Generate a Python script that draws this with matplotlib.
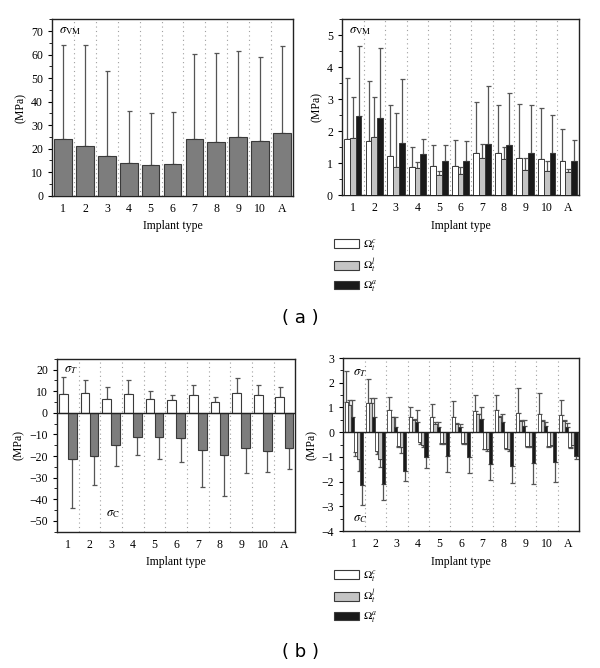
import numpy as np
import matplotlib
matplotlib.use("Agg")
import matplotlib.pyplot as plt
from matplotlib.patches import Patch
from matplotlib.ticker import MultipleLocator

plt.rcParams["font.family"] = "Liberation Serif"
plt.rcParams["font.size"] = 8.5
plt.rcParams["mathtext.fontset"] = "stix"

types = ["1", "2", "3", "4", "5", "6", "7", "8", "9", "10", "A"]

# (a) left: von Mises, mean and upper whisker
vm_mean = [24.2, 21.0, 17.0, 14.0, 13.0, 13.5, 24.2, 23.0, 25.0, 23.3, 26.5]
vm_top = [64.3, 64.0, 53.0, 36.0, 35.0, 35.5, 60.2, 60.6, 61.5, 59.0, 63.5]

# (a) right: von Mises per region (c, l, a)
vmr_c = [1.75, 1.68, 1.22, 0.87, 0.91, 0.92, 1.32, 1.33, 1.17, 1.13, 1.08]
vmr_c_top = [3.65, 3.58, 2.83, 1.52, 1.56, 1.73, 2.92, 2.83, 2.86, 2.73, 2.08]
vmr_l = [1.78, 1.82, 0.88, 0.85, 0.62, 0.67, 1.16, 1.12, 0.80, 0.76, 0.72]
vmr_l_top = [3.08, 3.07, 2.58, 1.05, 0.74, 0.87, 1.60, 1.52, 1.15, 1.06, 0.83]
vmr_a = [2.48, 2.42, 1.63, 1.29, 1.06, 1.08, 1.60, 1.58, 1.33, 1.31, 1.08]
vmr_a_top = [4.68, 4.60, 3.63, 1.74, 1.56, 1.69, 3.40, 3.18, 2.83, 2.52, 1.71]

# (b) left: tension / compression
st_mean = [8.5, 9.3, 6.3, 8.5, 6.5, 5.8, 8.0, 4.8, 9.2, 8.0, 7.2]
st_top = [16.5, 15.0, 12.0, 15.2, 10.3, 8.0, 12.7, 7.5, 16.3, 12.7, 12.0]
sc_mean = [-21.5, -20.0, -14.7, -11.2, -11.3, -11.7, -17.3, -19.5, -16.5, -17.5, -16.5]
sc_bot = [-44.0, -33.5, -24.5, -19.7, -21.5, -22.7, -34.2, -38.5, -28.0, -27.2, -26.2]

# (b) right: tension / compression per region
t_c = [1.21, 1.18, 0.90, 0.60, 0.62, 0.63, 0.85, 0.88, 0.78, 0.75, 0.68]
t_c_top = [2.47, 2.15, 1.43, 1.00, 1.15, 1.25, 1.50, 1.50, 1.78, 1.58, 1.30]
t_l = [1.10, 1.18, 0.62, 0.50, 0.35, 0.35, 0.72, 0.60, 0.45, 0.45, 0.45]
t_l_top = [1.32, 1.40, 0.62, 0.52, 0.42, 0.36, 0.75, 0.65, 0.50, 0.48, 0.42]
t_a = [0.60, 0.62, 0.22, 0.42, 0.20, 0.20, 0.52, 0.40, 0.25, 0.25, 0.22]
t_a_top = [1.30, 1.38, 0.60, 0.88, 0.40, 0.33, 1.02, 0.72, 0.48, 0.42, 0.38]
c_c = [-0.80, -0.75, -0.55, -0.40, -0.45, -0.45, -0.68, -0.65, -0.55, -0.55, -0.60]
c_c_bot = [-0.95, -0.90, -0.60, -0.48, -0.48, -0.48, -0.70, -0.70, -0.58, -0.58, -0.62]
c_l = [-1.10, -1.10, -0.60, -0.50, -0.45, -0.45, -0.70, -0.70, -0.55, -0.50, -0.50]
c_l_bot = [-1.55, -1.42, -0.85, -0.60, -0.48, -0.48, -0.75, -0.75, -0.58, -0.55, -0.52]
c_a = [-2.15, -2.08, -1.58, -1.02, -0.98, -1.02, -1.28, -1.35, -1.25, -1.22, -0.98]
c_a_bot = [-2.95, -2.75, -1.98, -1.45, -1.62, -1.65, -1.95, -2.05, -2.10, -2.00, -1.08]

legend_labels = [r"$\Omega_t^c$", r"$\Omega_t^l$", r"$\Omega_t^a$"]

WHITE, LIGHT, MID, DARK = "#ffffff", "#c4c4c4", "#7d7d7d", "#1a1a1a"
EDGE = "#3a3a3a"
ERR = "#555555"

x = np.arange(len(types))


def bars(ax, pos, vals, ends, color, width, lw=0.8):
    vals = np.array(vals)
    ends = np.array(ends)
    ax.bar(pos, vals, width, color=color, edgecolor=EDGE, linewidth=lw, zorder=3)
    err = np.abs(ends - vals)
    up = np.where(vals >= 0, err, 0)
    dn = np.where(vals < 0, err, 0)
    ax.errorbar(pos, vals, yerr=[dn, up], fmt="none", ecolor=ERR,
                elinewidth=0.9, capsize=1.8, capthick=0.9, zorder=2)


def style(ax, ylim, major, minor):
    ax.set_xlim(-0.5, 10.5)
    ax.set_ylim(*ylim)
    ax.set_xticks(x)
    ax.set_xticklabels(types)
    ax.tick_params(axis="x", length=0, pad=5)
    ax.yaxis.set_major_locator(MultipleLocator(major))
    ax.yaxis.set_minor_locator(MultipleLocator(minor))
    ax.tick_params(axis="y", which="major", length=3, direction="out")
    ax.tick_params(axis="y", which="minor", length=2, direction="out")
    for b in np.arange(0.5, 10.5, 1.0):
        ax.axvline(b, color="#a0a0a0", linestyle=(0, (1, 3)), linewidth=0.8, zorder=1)
    for s in ax.spines.values():
        s.set_color("#222222")
        s.set_linewidth(1.0)
    ax.set_xlabel("Implant type", labelpad=4)
    ax.set_ylabel("(MPa)", labelpad=3)


fig = plt.figure(figsize=(6.0, 6.68), dpi=100)

# (a) left
ax1 = fig.add_axes([0.087, 0.707, 0.401, 0.264])
bars(ax1, x, vm_mean, vm_top, MID, 0.8)
style(ax1, (0, 75), 10, 5)
ax1.text(0.03, 0.97, r"$\sigma_{\rm VM}$", transform=ax1.transAxes, va="top", fontsize=9)

# (a) right
ax2 = fig.add_axes([0.570, 0.708, 0.395, 0.263])
w = 0.27
bars(ax2, x - w, vmr_c, vmr_c_top, WHITE, w, 0.7)
bars(ax2, x, vmr_l, vmr_l_top, LIGHT, w, 0.7)
bars(ax2, x + w, vmr_a, vmr_a_top, DARK, w, 0.7)
style(ax2, (0, 5.5), 1, 0.5)
ax2.text(0.03, 0.97, r"$\sigma_{\rm VM}$", transform=ax2.transAxes, va="top", fontsize=9)

# (b) left
ax3 = fig.add_axes([0.095, 0.204, 0.397, 0.259])
bars(ax3, x - 0.21, st_mean, st_top, WHITE, 0.4)
bars(ax3, x + 0.21, sc_mean, sc_bot, MID, 0.4)
ax3.axhline(0, color="#222222", linewidth=1.0, zorder=4)
style(ax3, (-55, 25), 10, 5)
ax3.text(0.03, 0.97, r"$\sigma_T$", transform=ax3.transAxes, va="top", fontsize=9)
ax3.text(1.75, -47, r"$\sigma_{\rm C}$", fontsize=9, va="center")

# (b) right
ax4 = fig.add_axes([0.572, 0.205, 0.393, 0.259])
w = 0.145
offs = (np.arange(6) - 2.5) * w
bars(ax4, x + offs[0], t_c, t_c_top, WHITE, w, 0.6)
bars(ax4, x + offs[1], t_l, t_l_top, LIGHT, w, 0.6)
bars(ax4, x + offs[2], t_a, t_a_top, DARK, w, 0.6)
bars(ax4, x + offs[3], c_c, c_c_bot, WHITE, w, 0.6)
bars(ax4, x + offs[4], c_l, c_l_bot, LIGHT, w, 0.6)
bars(ax4, x + offs[5], c_a, c_a_bot, DARK, w, 0.6)
ax4.axhline(0, color="#222222", linewidth=1.0, zorder=4)
style(ax4, (-4, 3), 1, 0.5)
ax4.text(0.04, 0.95, r"$\sigma_T$", transform=ax4.transAxes, va="top", fontsize=9)
ax4.text(0.04, 0.07, r"$\sigma_C$", transform=ax4.transAxes, va="center", fontsize=9)

handles = [Patch(facecolor=c, edgecolor=EDGE, linewidth=0.8) for c in (WHITE, LIGHT, DARK)]
for ytop in (1 - 233 / 668, 1 - 564 / 668):
    fig.legend(handles, legend_labels, loc="upper left", bbox_to_anchor=(0.55, ytop),
               frameon=False, fontsize=8, handlelength=2.2, handleheight=0.8,
               labelspacing=0.35, handletextpad=0.4, borderaxespad=0)

fig.text(0.5, 1 - 318 / 668, "( a )", ha="center", va="center",
         fontsize=13, family="DejaVu Sans")
fig.text(0.5, 1 - 652 / 668, "( b )", ha="center", va="center",
         fontsize=13, family="DejaVu Sans")

fig.savefig("out.png", dpi=100)
